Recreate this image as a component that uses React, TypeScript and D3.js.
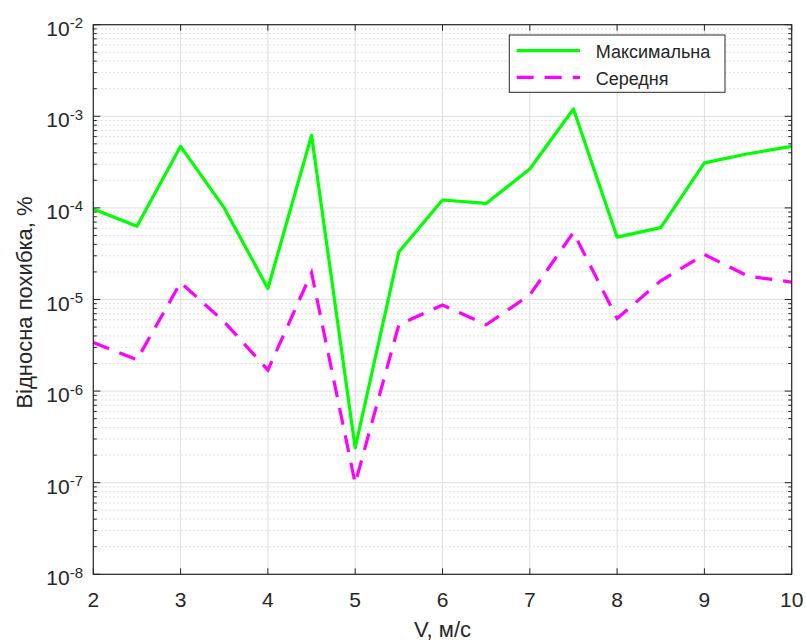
import React from 'react';
import * as d3 from 'd3';

// швидкість вітру, м/с
const speeds = [2, 2.5, 3, 3.5, 4, 4.5, 5, 5.5, 6, 6.5, 7, 7.5, 8, 8.5, 9, 9.5, 10];

// максимальна відносна похибка, %
const maxError = [
  9.7e-5, 6.3e-5, 4.7e-4, 1.0e-4, 1.32e-5, 6.2e-4, 2.4e-7, 3.3e-5, 1.22e-4,
  1.12e-4, 2.66e-4, 1.2e-3, 4.8e-5, 6.1e-5, 3.1e-4, 3.9e-4, 4.7e-4,
];

// середня відносна похибка, %
const meanError = [
  3.4e-6, 2.2e-6, 1.53e-5, 5.7e-6, 1.7e-6, 1.96e-5, 9.8e-8, 5.3e-6, 8.7e-6,
  5.3e-6, 1.12e-5, 5.4e-5, 6.2e-6, 1.6e-5, 3.1e-5, 1.8e-5, 1.55e-5,
];

const xTicks = [2, 3, 4, 5, 6, 7, 8, 9, 10];
const yExponents = [-8, -7, -6, -5, -4, -3, -2];

const legendItems = [
  { name: 'Максимальна', color: '#00ff00', dash: undefined as string | undefined },
  { name: 'Середня', color: '#ff00ff', dash: '17 11' },
];

const margin = { top: 24.7, right: 14.3, bottom: 67.7, left: 93.3 };
const W = 806;
const H = 642;
const axisColor = '#262626';
const font = '"Liberation Sans", Arial, sans-serif';

const App: React.FC = () => {
  const left = margin.left;
  const right = W - margin.right;
  const top = margin.top;
  const bottom = H - margin.bottom;

  const x = d3.scaleLinear().domain([2, 10]).range([left, right]);
  const y = d3.scaleLog().domain([1e-8, 1e-2]).range([bottom, top]);

  // minor ticks 2..9 x 10^k
  const minor: number[] = [];
  for (let k = -8; k < -2; k++) {
    for (let m = 2; m <= 9; m++) minor.push(m * Math.pow(10, k));
  }

  const line = d3
    .line<number>()
    .x((_, i) => x(speeds[i]))
    .y((d) => y(d));

  return (
    <svg
      width={W}
      height={H}
      style={{ position: 'absolute', left: 0, top: 0, background: '#fff' }}
      fontFamily={font}
    >
      <rect x={left} y={top} width={right - left} height={bottom - top} fill="#fff" />

      {/* minor grid */}
      {minor.map((v) => (
        <line
          key={'mg' + v}
          x1={left}
          x2={right}
          y1={y(v)}
          y2={y(v)}
          stroke="#d9d9d9"
          strokeWidth={1}
          strokeDasharray="1.5 2.5"
        />
      ))}
      {/* major grid */}
      {yExponents.map((e) => (
        <line
          key={'gy' + e}
          x1={left}
          x2={right}
          y1={y(Math.pow(10, e))}
          y2={y(Math.pow(10, e))}
          stroke="#dedede"
          strokeWidth={1}
        />
      ))}
      {xTicks.map((t) => (
        <line key={'gx' + t} x1={x(t)} x2={x(t)} y1={top} y2={bottom} stroke="#dedede" strokeWidth={1} />
      ))}

      {/* data */}
      <path d={line(maxError) || ''} fill="none" stroke="#00ff00" strokeWidth={3.2} strokeLinejoin="round" />
      <path
        d={line(meanError) || ''}
        fill="none"
        stroke="#ff00ff"
        strokeWidth={3.2}
        strokeDasharray="17 11"
      />

      {/* box */}
      <rect x={left} y={top} width={right - left} height={bottom - top} fill="none" stroke={axisColor} strokeWidth={1.2} />

      {/* x ticks */}
      {xTicks.map((t) => (
        <g key={'xt' + t}>
          <line x1={x(t)} x2={x(t)} y1={bottom} y2={bottom - 6} stroke={axisColor} />
          <line x1={x(t)} x2={x(t)} y1={top} y2={top + 6} stroke={axisColor} />
          <text x={x(t)} y={606.7} textAnchor="middle" fontSize={21} fill={axisColor}>
            {t}
          </text>
        </g>
      ))}

      {/* y ticks */}
      {yExponents.map((e) => (
        <g key={'yt' + e}>
          <line x1={left} x2={left + 7} y1={y(Math.pow(10, e))} y2={y(Math.pow(10, e))} stroke={axisColor} />
          <line x1={right} x2={right - 7} y1={y(Math.pow(10, e))} y2={y(Math.pow(10, e))} stroke={axisColor} />
          <text x={83} y={y(Math.pow(10, e)) + 11} textAnchor="end" fontSize={21} fill={axisColor}>
            10
            <tspan dy={-7.5} fontSize={15}>
              {e}
            </tspan>
          </text>
        </g>
      ))}
      {minor.map((v) => (
        <g key={'ym' + v}>
          <line x1={left} x2={left + 3.5} y1={y(v)} y2={y(v)} stroke={axisColor} />
          <line x1={right} x2={right - 3.5} y1={y(v)} y2={y(v)} stroke={axisColor} />
        </g>
      ))}

      {/* axis labels */}
      <text x={(left + right) / 2} y={636.5} textAnchor="middle" fontSize={22} fill={axisColor}>
        V, м/с
      </text>
      <text
        transform={`translate(32, ${(top + bottom) / 2 + 3}) rotate(-90)`}
        textAnchor="middle"
        fontSize={22}
        fill={axisColor}
      >
        Відносна похибка, %
      </text>

      {/* legend */}
      <g transform="translate(509.3, 35)">
        <rect x={0} y={0} width={215.7} height={57.3} fill="#fff" stroke={axisColor} strokeWidth={1} />
        {legendItems.map((it, i) => (
          <g key={it.name} transform={`translate(0, ${15.7 + i * 26.6})`}>
            <line x1={7.4} x2={70.7} y1={0} y2={0} stroke={it.color} strokeWidth={3.2} strokeDasharray={it.dash} />
            <text x={86.4} y={7.6} fontSize={18} fill={axisColor}>
              {it.name}
            </text>
          </g>
        ))}
      </g>
    </svg>
  );
};

export default App;
